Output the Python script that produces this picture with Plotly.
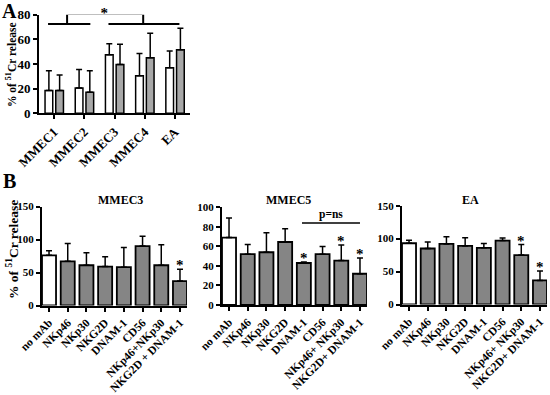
import plotly.graph_objects as go

W, H = 550, 395

# ---------- Panel A data ----------
a_categories = ["MMEC1", "MMEC2", "MMEC3", "MMEC4", "EA"]
a_white = [18.5, 20.5, 47.5, 30.5, 37]
a_white_err = [16, 15, 9, 18, 13.5]
a_gray = [18.5, 17, 39.5, 45, 51.5]
a_gray_err = [12.5, 17.5, 16.5, 20, 17.5]
a_yticks = [0, 20, 40, 60, 80]

# ---------- Panel B data ----------
b_labels_mmec3 = ["no mAb", "NKp46", "NKp30", "NKG2D", "DNAM-1", "CD56",
                  "NKp46+NKp30", "NKG2D + DNAM-1"]
b_labels_other = ["no mAb", "NKp46", "NKp30", "NKG2D", "DNAM-1", "CD56",
                  "NKp46+ NKp30", "NKG2D+ DNAM-1"]

mmec3_vals = [76, 67, 61, 59, 58, 90, 61, 37]
mmec3_err = [7, 27, 19, 15, 30, 15, 31, 18]
mmec3_star = [False, False, False, False, False, False, False, True]
mmec3_yticks = [0, 50, 100, 150]

mmec5_vals = [69, 52, 54, 64.5, 43, 52, 45.5, 32]
mmec5_err = [20, 10, 20, 13.5, 1, 8, 16, 16]
mmec5_star = [False, False, False, False, True, False, True, True]
mmec5_yticks = [0, 20, 40, 60, 80, 100]

ea_vals = [93, 85, 92, 89, 86, 97, 75, 36.5]
ea_err = [4.5, 10, 11, 12.5, 6.5, 4, 16, 14.5]
ea_star = [False, False, False, False, False, False, True, True]
ea_yticks = [0, 50, 100, 150]

FONT = "Liberation Serif"
WHITE = "#ffffff"
GRAY_A = "#a8a8a8"
GRAY_B = "#858585"


def px_x(p):
    return p / W


def px_y(p):
    return 1 - p / H


fig = go.Figure()

# Panel A bars
ax_pos = list(range(len(a_categories)))
fig.add_trace(go.Bar(
    x=ax_pos, y=a_white, offset=-0.30, width=0.255,
    marker=dict(color=WHITE, line=dict(color="black", width=1.5)),
    error_y=dict(type="data", symmetric=False, array=a_white_err,
                 arrayminus=[0] * len(a_white), color="black",
                 thickness=1.5, width=3),
    xaxis="x", yaxis="y", showlegend=False, cliponaxis=False))
fig.add_trace(go.Bar(
    x=ax_pos, y=a_gray, offset=0.055, width=0.255,
    marker=dict(color=GRAY_A, line=dict(color="black", width=1.5)),
    error_y=dict(type="data", symmetric=False, array=a_gray_err,
                 arrayminus=[0] * len(a_gray), color="black",
                 thickness=1.5, width=3),
    xaxis="x", yaxis="y", showlegend=False, cliponaxis=False))

# significance bracket in A
bracket_lines = [
    ([-0.2, 1.2], [72.5, 72.5]),
    ([1.8, 4.15], [72.5, 72.5]),
    ([0.43, 0.43, 2.95, 2.95], [72.5, 80.5, 80.5, 72.5]),
]
for bx, by in bracket_lines:
    fig.add_trace(go.Scatter(x=bx, y=by, mode="lines",
                             line=dict(color="black", width=2),
                             xaxis="x", yaxis="y", showlegend=False,
                             cliponaxis=False, hoverinfo="skip"))
fig.add_trace(go.Scatter(x=[1.66], y=[80], mode="text", text=["<b>*</b>"],
                         textposition="middle center",
                         textfont=dict(family=FONT, size=15, color="black"),
                         xaxis="x", yaxis="y", showlegend=False,
                         cliponaxis=False, hoverinfo="skip"))

panels = [
    ("x2", "y2", mmec3_vals, mmec3_err, mmec3_star, b_labels_mmec3, mmec3_yticks, "MMEC3", 120),
    ("x3", "y3", mmec5_vals, mmec5_err, mmec5_star, b_labels_other, mmec5_yticks, "MMEC5", 288),
    ("x4", "y4", ea_vals, ea_err, ea_star, b_labels_other, ea_yticks, "EA", 470),
]

annotations = []
for xa, ya, vals, errs, stars, labels, yt, title, tx in panels:
    pos = list(range(len(vals)))
    colors = [WHITE] + [GRAY_B] * (len(vals) - 1)
    fig.add_trace(go.Bar(
        x=pos, y=vals, width=0.75,
        marker=dict(color=colors, line=dict(color="black", width=1.8)),
        error_y=dict(type="data", symmetric=False, array=errs,
                     arrayminus=[0] * len(vals), color="black",
                     thickness=1.5, width=3),
        xaxis=xa, yaxis=ya, showlegend=False, cliponaxis=False))
    for i, s in enumerate(stars):
        if s:
            annotations.append(dict(
                x=i, y=vals[i] + errs[i], xref=xa, yref=ya, text="<b>*</b>",
                showarrow=False, xanchor="center", yanchor="bottom", yshift=-6,
                font=dict(family=FONT, size=15, color="black")))

# p=ns line in MMEC5
fig.add_trace(go.Scatter(x=[3.9, 7.0], y=[84, 84], mode="lines",
                         line=dict(color="black", width=1.5),
                         xaxis="x3", yaxis="y3", showlegend=False,
                         cliponaxis=False, hoverinfo="skip"))
annotations.append(dict(x=5.45, y=84, xref="x3", yref="y3", text="<b>p=ns</b>",
                        showarrow=False, xanchor="center", yanchor="bottom", yshift=0,
                        font=dict(family=FONT, size=11.5, color="black")))

axis_common = dict(showline=True, linecolor="black", linewidth=2,
                   ticks="outside", ticklen=4, tickwidth=1.5, tickcolor="black",
                   showgrid=False, zeroline=False, automargin=False)

layout = dict(
    width=W, height=H, autosize=False,
    margin=dict(l=0, r=0, t=0, b=0, pad=0, autoexpand=False),
    paper_bgcolor="white", plot_bgcolor="white",
    font=dict(family=FONT, color="black"),
    barmode="group",
)

# Panel A axes
layout["xaxis"] = dict(axis_common, domain=[px_x(39), px_x(190)], range=[-0.5, 4.5],
                       tickvals=ax_pos, ticktext=["<b>%s</b>" % c for c in a_categories],
                       tickangle=-45, tickfont=dict(family=FONT, size=13), anchor="y")
layout["yaxis"] = dict(axis_common, domain=[px_y(113.3), px_y(14.7)], range=[0, 80],
                       tickvals=a_yticks, ticktext=["<b>%d</b>" % v for v in a_yticks],
                       tickfont=dict(family=FONT, size=13), anchor="x")

b_domains = [
    ([42, 187], [305.5, 206.5]),
    ([222, 367], [305, 207.3]),
    ([402, 547], [304.5, 205.7]),
]
for k, ((xd, yd), p) in enumerate(zip(b_domains, panels)):
    n = k + 2
    xa, ya, vals, errs, stars, labels, yt, title, tx = p
    layout["xaxis%d" % n] = dict(axis_common, domain=[px_x(xd[0]), px_x(xd[1])],
                                 range=[-0.375, len(vals) - 1 + 0.375],
                                 tickvals=list(range(len(vals))),
                                 ticktext=["<b>%s</b>" % t for t in labels],
                                 tickangle=-45, tickfont=dict(family=FONT, size=11.5),
                                 anchor="y%d" % n)
    layout["yaxis%d" % n] = dict(axis_common, domain=[px_y(yd[0]), px_y(yd[1])],
                                 range=[0, max(yt)], tickvals=yt,
                                 ticktext=["<b>%d</b>" % v for v in yt],
                                 tickfont=dict(family=FONT, size=11),
                                 anchor="x%d" % n)
    annotations.append(dict(x=px_x(tx), y=px_y(200), xref="paper", yref="paper",
                            text="<b>%s</b>" % title,
                            showarrow=False, xanchor="center", yanchor="middle",
                            font=dict(family=FONT, size=12)))

# Y titles & panel letters
annotations.append(dict(x=px_x(11), y=px_y(65), xref="paper", yref="paper",
                        text="<b>% of <sup>51</sup>Cr release</b>", textangle=-90,
                        xanchor="center", yanchor="middle",
                        showarrow=False, font=dict(family=FONT, size=11.5)))
annotations.append(dict(x=px_x(12), y=px_y(250), xref="paper", yref="paper",
                        text="<b>% of <sup>51</sup>Cr release</b>", textangle=-90,
                        xanchor="center", yanchor="middle",
                        showarrow=False, font=dict(family=FONT, size=13.5)))
annotations.append(dict(x=px_x(0), y=px_y(-2), xref="paper", yref="paper",
                        text="<b>A</b>", showarrow=False, xanchor="left", yanchor="top",
                        font=dict(family=FONT, size=20)))
annotations.append(dict(x=px_x(1), y=px_y(168), xref="paper", yref="paper",
                        text="<b>B</b>", showarrow=False, xanchor="left", yanchor="top",
                        font=dict(family=FONT, size=20)))

layout["annotations"] = annotations
fig.update_layout(**layout)
fig.write_html("out.html", config={"displayModeBar": False},
               post_script="document.body.style.margin='0px';")
